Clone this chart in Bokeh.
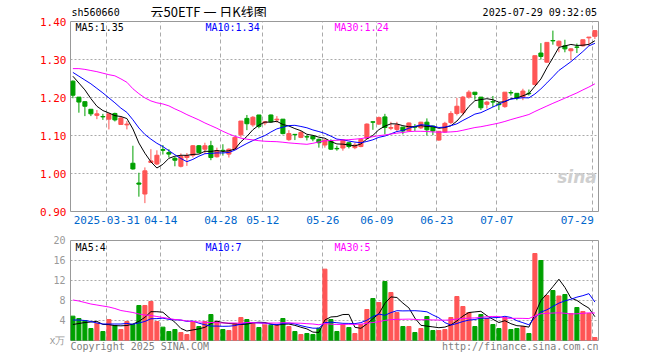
import pandas as pd
from bokeh.plotting import figure
from bokeh.layouts import column
from bokeh.models import ColumnDataSource, FixedTicker, Label, Range1d, LinearAxis
from bokeh.core.properties import value
from bokeh.embed import file_html
from bokeh.resources import INLINE

# ---------------- data ----------------
dates = [
    "2025-03-21", "2025-03-24", "2025-03-25", "2025-03-26", "2025-03-27", "2025-03-28",
    "2025-03-31", "2025-04-01", "2025-04-02", "2025-04-03", "2025-04-07", "2025-04-08",
    "2025-04-09", "2025-04-10", "2025-04-11", "2025-04-14", "2025-04-15", "2025-04-16",
    "2025-04-17", "2025-04-18", "2025-04-21", "2025-04-22", "2025-04-23", "2025-04-24",
    "2025-04-25", "2025-04-28", "2025-04-29", "2025-04-30", "2025-05-06", "2025-05-07",
    "2025-05-08", "2025-05-09", "2025-05-12", "2025-05-13", "2025-05-14", "2025-05-15",
    "2025-05-16", "2025-05-19", "2025-05-20", "2025-05-21", "2025-05-22", "2025-05-23",
    "2025-05-26", "2025-05-27", "2025-05-28", "2025-05-29", "2025-05-30", "2025-06-03",
    "2025-06-04", "2025-06-05", "2025-06-06", "2025-06-09", "2025-06-10", "2025-06-11",
    "2025-06-12", "2025-06-13", "2025-06-16", "2025-06-17", "2025-06-18", "2025-06-19",
    "2025-06-20", "2025-06-23", "2025-06-24", "2025-06-25", "2025-06-26", "2025-06-27",
    "2025-06-30", "2025-07-01", "2025-07-02", "2025-07-03", "2025-07-04", "2025-07-07",
    "2025-07-08", "2025-07-09", "2025-07-10", "2025-07-11", "2025-07-14", "2025-07-15",
    "2025-07-16", "2025-07-17", "2025-07-18", "2025-07-21", "2025-07-22", "2025-07-23",
    "2025-07-24", "2025-07-25", "2025-07-28", "2025-07-29",
]

opens = [1.243, 1.201, 1.189, 1.169, 1.153, 1.150, 1.143, 1.158, 1.129, 1.128,
         1.027, 0.975, 0.946, 1.029, 1.025, 1.063, 1.055, 1.040, 1.019, 1.042,
         1.048, 1.073, 1.064, 1.073, 1.044, 1.061, 1.051, 1.064, 1.102, 1.145,
         1.128, 1.154, 1.133, 1.154, 1.141, 1.143, 1.089, 1.103, 1.095, 1.097,
         1.098, 1.090, 1.075, 1.086, 1.066, 1.067, 1.081, 1.068, 1.071, 1.093,
         1.136, 1.130, 1.149, 1.119, 1.116, 1.122, 1.112, 1.123, 1.120, 1.135,
         1.125, 1.088, 1.109, 1.134, 1.158, 1.160, 1.201, 1.214, 1.201, 1.182,
         1.189, 1.183, 1.176, 1.213, 1.211, 1.201, 1.211, 1.234, 1.317, 1.293,
         1.350, 1.336, 1.336, 1.323, 1.333, 1.336, 1.357, 1.361]
highs = [1.245, 1.201, 1.190, 1.169, 1.167, 1.157, 1.158, 1.160, 1.150, 1.138,
         1.073, 1.002, 1.016, 1.064, 1.061, 1.075, 1.064, 1.044, 1.053, 1.054,
         1.075, 1.075, 1.081, 1.086, 1.068, 1.077, 1.066, 1.098, 1.138, 1.154,
         1.151, 1.154, 1.138, 1.155, 1.151, 1.143, 1.114, 1.103, 1.112, 1.101,
         1.101, 1.092, 1.090, 1.090, 1.073, 1.090, 1.082, 1.081, 1.092, 1.132,
         1.137, 1.150, 1.157, 1.136, 1.136, 1.122, 1.134, 1.130, 1.136, 1.145,
         1.126, 1.112, 1.136, 1.164, 1.199, 1.204, 1.219, 1.214, 1.201, 1.191,
         1.204, 1.188, 1.214, 1.219, 1.211, 1.223, 1.221, 1.310, 1.343, 1.345,
         1.376, 1.350, 1.352, 1.330, 1.342, 1.352, 1.359, 1.376]
lows = [1.198, 1.160, 1.151, 1.151, 1.143, 1.141, 1.116, 1.137, 1.128, 1.116,
        1.010, 0.939, 0.922, 1.028, 1.022, 1.050, 1.042, 1.019, 1.016, 1.020,
        1.042, 1.053, 1.051, 1.035, 1.042, 1.047, 1.042, 1.062, 1.095, 1.114,
        1.123, 1.119, 1.127, 1.134, 1.134, 1.103, 1.086, 1.088, 1.093, 1.087,
        1.085, 1.068, 1.068, 1.062, 1.060, 1.060, 1.066, 1.064, 1.069, 1.091,
        1.115, 1.128, 1.103, 1.114, 1.110, 1.103, 1.111, 1.112, 1.117, 1.100,
        1.101, 1.086, 1.107, 1.130, 1.153, 1.153, 1.197, 1.194, 1.167, 1.171,
        1.175, 1.167, 1.173, 1.205, 1.193, 1.193, 1.205, 1.232, 1.300, 1.291,
        1.339, 1.319, 1.319, 1.298, 1.317, 1.334, 1.336, 1.354]
closes = [1.206, 1.188, 1.177, 1.157, 1.157, 1.149, 1.157, 1.141, 1.146, 1.130,
          1.012, 0.972, 1.007, 1.033, 1.048, 1.061, 1.051, 1.035, 1.045, 1.047,
          1.073, 1.055, 1.073, 1.042, 1.060, 1.060, 1.064, 1.095, 1.138, 1.131,
          1.148, 1.124, 1.136, 1.136, 1.143, 1.105, 1.105, 1.102, 1.108, 1.096,
          1.091, 1.081, 1.088, 1.064, 1.065, 1.088, 1.071, 1.075, 1.090, 1.130,
          1.135, 1.147, 1.121, 1.121, 1.128, 1.112, 1.133, 1.122, 1.135, 1.115,
          1.112, 1.111, 1.132, 1.158, 1.177, 1.201, 1.214, 1.208, 1.173, 1.188,
          1.188, 1.181, 1.214, 1.212, 1.199, 1.217, 1.210, 1.310, 1.308, 1.345,
          1.349, 1.348, 1.328, 1.328, 1.332, 1.352, 1.359, 1.376]
volumes = [4.87, 4.4, 4.0, 2.4, 3.47, 1.8, 4.2, 3.0, 2.2, 3.8,
           3.2, 7.0, 7.0, 7.8, 3.8, 2.67, 1.8, 2.2, 1.6, 1.2,
           3.8, 2.8, 3.8, 5.2, 3.8, 2.2, 2.0, 3.4, 4.6, 4.2,
           3.47, 2.6, 3.13, 3.07, 3.07, 4.4, 2.8, 1.8, 1.2, 1.4,
           1.2, 2.47, 14.27, 4.2, 1.8, 3.2, 2.6, 1.4, 3.2, 6.2,
           8.4, 7.6, 11.8, 9.6, 5.6, 2.8, 2.8, 1.6, 2.4, 4.8,
           2.0, 2.0, 2.2, 4.6, 8.8, 6.8, 5.6, 2.8, 5.2, 4.4,
           3.2, 2.4, 4.6, 2.2, 2.4, 2.8, 1.4, 17.4, 16.0, 9.0,
           10.0, 8.9, 9.2, 5.4, 6.6, 5.8, 5.4, 0.6]

# moving-average values for days whose window starts before the first candle
ma5_lead = [1.256, 1.238, 1.220, 1.197]
ma10_lead = [1.266, 1.256, 1.246, 1.236, 1.224, 1.212, 1.199, 1.186, 1.172]
ma30_lead = [1.276, 1.276, 1.274, 1.271, 1.268, 1.264, 1.260, 1.257, 1.249, 1.240,
             1.223, 1.210, 1.199, 1.191, 1.186, 1.183, 1.178, 1.170, 1.163, 1.155,
             1.148, 1.141, 1.133, 1.126, 1.119, 1.111, 1.104, 1.098, 1.093]
vma5_lead = [3.2, 3.4, 3.6, 3.7]
vma10_lead = [4.1, 4.1, 4.0, 3.8, 3.5, 3.3, 3.3, 3.3, 3.3]
vma30_lead = [8.1, 7.9, 7.6, 7.3, 7.1, 6.9, 6.7, 6.4, 6.0, 5.8,
              5.6, 5.3, 5.1, 5.0, 4.8, 4.6, 4.4, 4.2, 4.1, 3.9,
              3.8, 3.7, 3.65, 3.6, 3.55, 3.5, 3.5, 3.5, 3.45]

tick_dates = ["2025-03-31", "2025-04-14", "2025-04-28", "2025-05-12", "2025-05-26",
              "2025-06-09", "2025-06-23", "2025-07-07", "2025-07-29"]
tick_texts = ["2025-03-31", "04-14", "04-28", "05-12", "05-26",
              "06-09", "06-23", "07-07", "07-29"]
price_ticks = [0.90, 1.00, 1.10, 1.20, 1.30, 1.40]
volume_ticks = [0, 4, 8, 12, 16, 20]

symbol = "sh560660"
title_text = "云50ETF 一 日K线图"
stamp = "2025-07-29 09:32:05"
price_ma_labels = ["MA5:1.35", "MA10:1.34", "MA30:1.24"]
volume_ma_labels = ["MA5:4", "MA10:7", "MA30:5"]
footer_left = "Copyright 2025 SINA.COM"
footer_right = "http://finance.sina.com.cn"

# ---------------- derived ----------------
def moving_average(vals, n, lead):
    s = pd.Series(vals).rolling(n).mean().tolist()
    return list(lead) + s[n - 1:]

idx = list(range(len(dates)))
UP, DOWN = "#FF5555", "#00A000"
colors = [UP if c >= o else DOWN for o, c in zip(opens, closes)]
src = ColumnDataSource(dict(
    x=idx, open=opens, high=highs, low=lows, close=closes,
    top=[max(o, c) for o, c in zip(opens, closes)],
    bottom=[min(o, c) for o, c in zip(opens, closes)],
    color=colors, vol=volumes,
))

ma_colors = ["#000000", "#0000FF", "#FF00FF"]
price_mas = [moving_average(closes, 5, ma5_lead), moving_average(closes, 10, ma10_lead),
             moving_average(closes, 30, ma30_lead)]
vol_mas = [moving_average(volumes, 5, vma5_lead), moving_average(volumes, 10, vma10_lead),
           moving_average(volumes, 30, vma30_lead)]

tick_idx = [dates.index(d) for d in tick_dates]
grid_pos = [round(i - 0.35, 2) for i in tick_idx]
label_pos = list(grid_pos)
label_pos[-1] = round(grid_pos[-1] - 2.6, 2)

MONO = "DejaVu Sans Mono"
FS_AX = "11px"
FS = "10px"
CHAR_W = 0.602 * 10 / 6.0   # width of one 10px mono character in index units (6 px per day)
X0, X1 = -0.4, 87.6
xr = Range1d(X0, X1)
LEFT, RIGHT = 70, 62
W = 660


def style(fig):
    fig.outline_line_color = "#999999"
    fig.outline_line_width = 1
    fig.background_fill_color = "white"
    fig.border_fill_color = "white"
    for ax in fig.axis:
        ax.axis_line_color = None
        ax.major_tick_line_color = None
        ax.minor_tick_line_color = None
        ax.major_tick_out = 0
        ax.major_tick_in = 0
        ax.minor_tick_out = 0
        ax.major_label_text_font = MONO
        ax.major_label_text_font_size = FS_AX
    fig.xgrid.ticker = FixedTicker(ticks=grid_pos)
    fig.xgrid.grid_line_color = "#AAAAAA"
    fig.xgrid.grid_line_dash = "4 3"
    fig.ygrid.grid_line_color = "#AAAAAA"
    fig.ygrid.grid_line_dash = "2 2"


# ---------------- header strip (same borders as the panels, pixel units) ----------------
h = figure(width=W, height=17, x_range=Range1d(LEFT, W - RIGHT), y_range=Range1d(17, 0),
           x_axis_location=None, y_axis_location=None,
           output_backend="svg", toolbar_location=None,
           min_border_left=LEFT, min_border_right=RIGHT, min_border_top=0, min_border_bottom=0)
h.grid.visible = False
h.outline_line_color = None
h.background_fill_color = "white"
h.border_fill_color = "white"
h.text(x=[LEFT + 1, W - RIGHT - 1.5], y=[12.2, 12.2], text=[symbol, stamp],
       text_align=["left", "right"], text_baseline="middle", text_font=value(MONO),
       text_font_size=FS, text_color="#000000")
h.text(x=[150], y=[11.3], text=[title_text], text_align="left",
       text_baseline="middle", text_font=value("Noto Sans CJK SC"),
       text_font_size="13px", text_color="#000000")

# ---------------- price panel ----------------
p = figure(width=W, height=213, x_range=xr, y_range=Range1d(0.9, 1.4),
           output_backend="svg", toolbar_location=None,
           min_border_left=LEFT, min_border_right=RIGHT, min_border_top=4, min_border_bottom=19)
p.yaxis.ticker = FixedTicker(ticks=price_ticks)
p.yaxis.major_label_overrides = {t: f"{t:.2f}" for t in price_ticks}
p.yaxis.major_label_text_color = "#FF0000"
p.yaxis.major_label_standoff = 4
p.xaxis.ticker = FixedTicker(ticks=label_pos)
p.xaxis.major_label_overrides = {pos: t for pos, t in zip(label_pos, tick_texts)}
p.xaxis.major_label_text_color = "#0066CC"
p.xaxis.major_label_standoff = 4
style(p)
p.ygrid.ticker = FixedTicker(ticks=[1.0, 1.1, 1.2, 1.3])

p.segment("x", "low", "x", "high", color="color", line_width=1, source=src)
p.vbar(x="x", width=0.68, top="top", bottom="bottom", fill_color="color",
       line_color="color", line_width=1, source=src)
for ma, col in zip(price_mas, ma_colors):
    p.line(idx, ma, color=col, line_width=1)


def lab(fig, x, y, text, color="#000000", align="left", size=FS, font=MONO, style="normal"):
    fig.add_layout(Label(x=x, y=y, text=text, text_color=color, text_align=align,
                         text_baseline="middle", text_font=font, text_font_size=size,
                         text_font_style=style))

for x, t, col in zip([0.45, 22.1, 43.6], price_ma_labels, ma_colors):
    lab(p, x, 1.384, t, color=col)
lab(p, 87.3, 0.99, "sina", color="#CFCFCF", align="right", size="17px",
    font="DejaVu Sans", style="bold italic")

# ---------------- volume panel ----------------
v = figure(width=W, height=130, x_range=xr, y_range=Range1d(0, 20),
           output_backend="svg", toolbar_location=None,
           min_border_left=LEFT, min_border_right=RIGHT, min_border_top=10, min_border_bottom=20)
v.xaxis.visible = False
v.yaxis.ticker = FixedTicker(ticks=volume_ticks)
v.yaxis.major_label_overrides = {0: "x万"}
v.yaxis.major_label_text_color = "#999999"
v.yaxis.major_label_standoff = 5
style(v)
v.yaxis.major_label_text_font_size = FS
v.ygrid.ticker = FixedTicker(ticks=[4, 8, 12, 16])

# footer texts carried by a bottom axis (left edge / right edge of the frame)
fl_center = round(X0 + len(footer_left) * CHAR_W / 2, 3)
fr_center = round(X1 - len(footer_right) * CHAR_W / 2, 3)
foot = LinearAxis(ticker=FixedTicker(ticks=[fl_center, fr_center]),
                  major_label_overrides={fl_center: footer_left, fr_center: footer_right},
                  axis_line_color=None, major_tick_line_color=None, minor_tick_line_color=None,
                  major_tick_out=0, major_tick_in=0, minor_tick_out=0,
                  major_label_text_font=MONO, major_label_text_font_size=FS,
                  major_label_text_color="#808080", major_label_standoff=0)
v.add_layout(foot, "below")

v.vbar(x="x", width=0.68, top="vol", bottom=0, fill_color="color",
       line_color="color", line_width=1, source=src)
for ma, col in zip(vol_mas, ma_colors):
    v.line(idx, ma, color=col, line_width=1)

for x, t, col in zip([0.45, 22.1, 43.6], volume_ma_labels, ma_colors):
    lab(v, x, 18.6, t, color=col)

layout = column(h, p, v, spacing=0)
open("out.html", "w").write(file_html(layout, INLINE))
